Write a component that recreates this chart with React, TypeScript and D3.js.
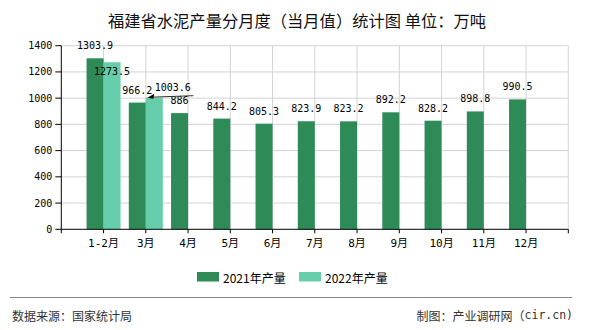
import React from "react";
import * as d3 from "d3";

const categories = ["1-2月", "3月", "4月", "5月", "6月", "7月", "8月", "9月", "10月", "11月", "12月"];
const series2021 = [1303.9, 966.2, 886, 844.2, 805.3, 823.9, 823.2, 892.2, 828.2, 898.8, 990.5];
const series2022 = [1273.5, 1003.6];
const yTicks = [0, 200, 400, 600, 800, 1000, 1200, 1400];
const seriesNames = ["2021年产量", "2022年产量"];
const title = "福建省水泥产量分月度（当月值）统计图 单位：万吨";
const sourceText = "数据来源：国家统计局";
const makerText = "制图：产业调研网（";
const makerSite = "cir.cn)";

const W = 590, H = 330;
const left = 61.3, right = 568.3, top = 45.7, bottom = 229.3;
const colors = ["#2e8b57", "#66cdaa"];
const numFont = "'DejaVu Sans Mono', 'Noto Sans CJK SC', monospace";
const cjkFont = "'Noto Sans CJK SC', 'DejaVu Sans', sans-serif";

export default function App() {
  const x = d3.scaleLinear().domain([-1, categories.length]).range([left, right]);
  const y = d3.scaleLinear().domain([0, 1400]).range([bottom, top]);
  const bw = 17;
  const gridX = d3.range(0, categories.length + 1).map((i) => x(i));

  return (
    <svg width={W} height={H} style={{ position: "absolute", left: 0, top: 0, background: "#fff" }}>
      <text x={W / 2 + 2} y={20} textAnchor="middle" dominantBaseline="central" fontFamily={cjkFont} fontSize={16.3} fill="#111">
        {title}
      </text>
      {/* grid */}
      {yTicks.slice(1).map((t) => (
        <line key={"gy" + t} x1={left} x2={right} y1={y(t)} y2={y(t)} stroke="#d3d3d3" strokeWidth={1} />
      ))}
      {gridX.map((gx, i) => (
        <line key={"gx" + i} x1={gx} x2={gx} y1={top} y2={bottom} stroke="#d3d3d3" strokeWidth={1} />
      ))}
      {/* bars */}
      {series2021.map((v, i) => (
        <rect key={"a" + i} x={x(i) - bw} y={y(v)} width={bw} height={bottom - y(v)} fill={colors[0]} />
      ))}
      {series2022.map((v, i) => (
        <rect key={"b" + i} x={x(i)} y={y(v)} width={bw} height={bottom - y(v)} fill={colors[1]} />
      ))}
      {/* axes */}
      <line x1={left} x2={left} y1={top} y2={bottom} stroke="#000" />
      <line x1={left} x2={right} y1={bottom} y2={bottom} stroke="#000" />
      {yTicks.map((t) => (
        <g key={"yt" + t}>
          <line x1={left - 6} x2={left} y1={y(t)} y2={y(t)} stroke="#000" />
          <text x={left - 9} y={y(t)} textAnchor="end" dominantBaseline="central" fontFamily={numFont} fontSize={10} fill="#000">
            {t}
          </text>
        </g>
      ))}
      {[-1, ...d3.range(0, categories.length + 1)].map((i) => (
        <line key={"xt" + i} x1={x(i)} x2={x(i)} y1={bottom} y2={bottom + 4} stroke="#000" />
      ))}
      {categories.map((c, i) => (
        <text key={"xl" + c} x={x(i)} y={243} textAnchor="middle" dominantBaseline="central" fontFamily={numFont} fontSize={11} fill="#000">
          {c}
        </text>
      ))}
      {/* labels */}
      {series2021.map((v, i) => (
        <text key={"la" + i} x={x(i) - bw / 2} y={y(v) - 12.5} textAnchor="middle" dominantBaseline="central" fontFamily={numFont} fontSize={10} fill="#000">
          {v}
        </text>
      ))}
      {series2022.map((v, i) => {
        if (i === 0) {
          return (
            <text key={"lb" + i} x={x(i) + bw / 2} y={y(v) + 9.5} textAnchor="middle" dominantBaseline="central" fontFamily={numFont} fontSize={10} fill="#000">
              {v}
            </text>
          );
        }
        const tipX = x(i) + 1.5, tipY = y(v);
        return (
          <g key={"lb" + i}>
            <line x1={tipX + 4} y1={tipY - 0.5} x2={tipX + 46} y2={tipY - 2} stroke="#333" strokeWidth={1} />
            <path d={`M${tipX},${tipY} L${tipX + 7},${tipY - 4} L${tipX + 6},${tipY + 1} Z`} fill="#000" />
            <text x={tipX + 25.5} y={tipY - 10} textAnchor="middle" dominantBaseline="central" fontFamily={numFont} fontSize={10} fill="#000">
              {v}
            </text>
          </g>
        );
      })}
      {/* legend */}
      {seriesNames.map((n, i) => (
        <g key={"lg" + i} transform={`translate(${197 + i * 102},272)`}>
          <rect x={0} y={0} width={22} height={9.5} fill={colors[i]} />
          <text x={26} y={5} dominantBaseline="central" fontFamily={cjkFont} fontSize={12} fill="#000">
            {n}
          </text>
        </g>
      ))}
      <line x1={10} x2={572} y1={297.5} y2={297.5} stroke="#888" strokeWidth={1} />
      <text x={12} y={315} dominantBaseline="central" fontFamily={cjkFont} fontSize={12} fill="#333">
        {sourceText}
      </text>
      <text x={573} y={315} textAnchor="end" dominantBaseline="central" fontFamily={cjkFont} fontSize={12} fill="#333">
        {makerText}
        <tspan fontFamily={numFont} fontSize={11.5}>{makerSite}</tspan>
      </text>
    </svg>
  );
}
